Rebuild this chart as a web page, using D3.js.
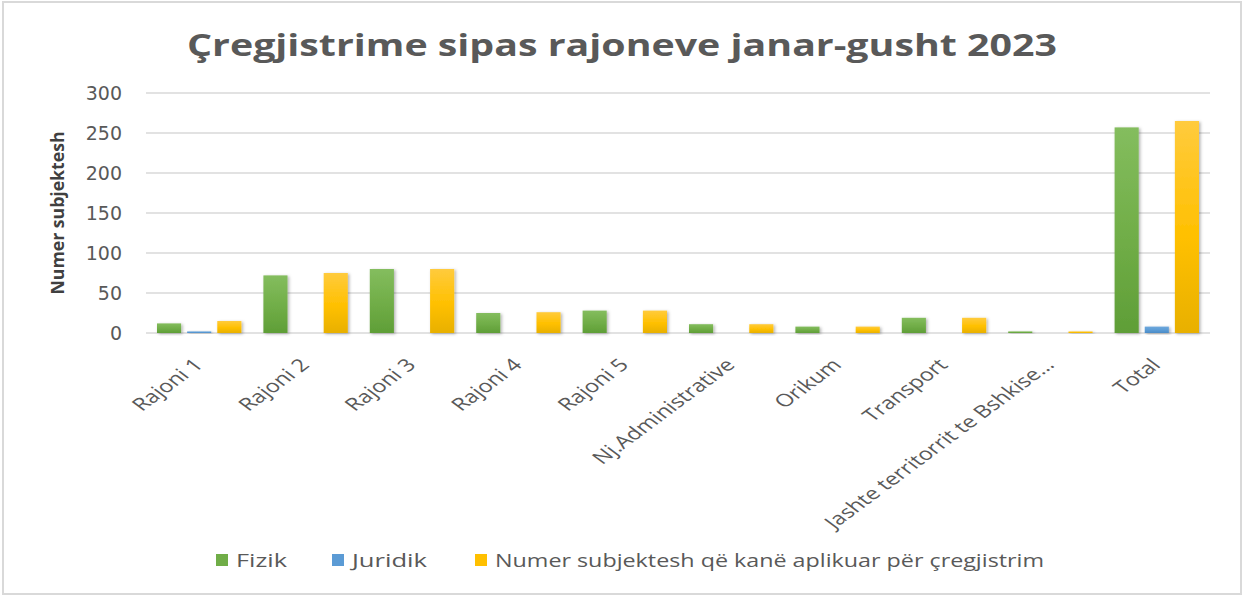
<!DOCTYPE html>
<html>
<head>
<meta charset="utf-8">
<script src="https://cdn.jsdelivr.net/npm/d3@7"></script>
<style>
  body { margin: 0; background: #fff; }
  text { font-family: "Open Sans", sans-serif; fill: #595959; }
</style>
</head>
<body>
<script>
const width = 1244;
const height = 597;

// data
const categories = ["Rajoni 1", "Rajoni 2", "Rajoni 3", "Rajoni 4", "Rajoni 5",
  "Nj.Administrative", "Orikum", "Transport", "Jashte territorrit te Bshkise…", "Total"];
const series = ["Fizik", "Juridik", "Numer subjektesh që kanë aplikuar për çregjistrim"];
const fizik   = [12, 72, 80, 25, 28, 11, 8, 19, 2, 257];
const juridik = [2, 0, 0, 0, 0, 0, 0, 0, 0, 8];
const aplikuar = [15, 75, 80, 26, 28, 11, 8, 19, 2, 265];
const yTicks = [0, 50, 100, 150, 200, 250, 300];

const values = [fizik, juridik, aplikuar];
const colors = ["#70ad47", "#5b9bd5", "#ffc000"];
const light = ["#84bd5e", "#6fa8dc", "#ffcb3d"];
const dark = ["#5f9e37", "#4a8bc6", "#e8b000"];

const margin = {left: 146, right: 34, top: 93, bottom: 264};

var svg = d3.select("body").append("svg")
    .attr("width", width)
    .attr("height", height);

// frame
svg.append("rect")
    .attr("x", 3).attr("y", 2)
    .attr("width", width - 6).attr("height", height - 5)
    .attr("fill", "#fff")
    .attr("stroke", "#d9d9d9")
    .attr("stroke-width", 2);

var defs = svg.append("defs");
series.forEach((s, i) => {
  var g = defs.append("linearGradient")
      .attr("id", "grad" + i)
      .attr("x1", 0).attr("y1", 0).attr("x2", 0).attr("y2", 1);
  g.append("stop").attr("offset", "0%").attr("stop-color", light[i]);
  g.append("stop").attr("offset", "55%").attr("stop-color", colors[i]);
  g.append("stop").attr("offset", "100%").attr("stop-color", dark[i]);
});
var shadow = defs.append("filter").attr("id", "shadow")
    .attr("x", "-30%").attr("y", "-30%").attr("width", "160%").attr("height", "160%");
shadow.append("feDropShadow")
    .attr("dx", 1.5).attr("dy", 1).attr("stdDeviation", 1.5)
    .attr("flood-color", "#000").attr("flood-opacity", 0.3);

// scales
const x0 = d3.scaleBand()
    .domain(categories)
    .range([margin.left, width - margin.right]);

const x1 = d3.scaleBand()
    .domain(d3.range(series.length))
    .range([11, x0.bandwidth() - 11])
    .paddingInner(0.2);

const y = d3.scaleLinear()
    .domain([0, 300])
    .range([height - margin.bottom, margin.top]);

// title
svg.append("text")
    .attr("x", 622).attr("y", 56)
    .attr("text-anchor", "middle")
    .attr("textLength", 870)
    .attr("lengthAdjust", "spacingAndGlyphs")
    .style("font-size", "30px")
    .style("font-weight", "bold")
    .text("Çregjistrime sipas rajoneve janar-gusht 2023");

// gridlines
svg.append("g")
  .selectAll("line")
  .data(yTicks)
  .enter().append("line")
    .attr("x1", margin.left).attr("x2", width - margin.right)
    .attr("y1", d => y(d)).attr("y2", d => y(d))
    .attr("stroke", "#d9d9d9")
    .attr("stroke-width", 1.5);

// y axis labels
const yaxis = d3.axisLeft(y).tickValues(yTicks).tickSize(0).tickPadding(24);
const g_yaxis = svg.append("g")
    .attr("transform", `translate(${margin.left},0)`)
    .call(yaxis);
g_yaxis.select(".domain").remove();
g_yaxis.selectAll("text")
    .style("font-size", "19px")
    .style("font-family", "'DejaVu Sans', sans-serif")
    .attr("fill", "#595959");

// y axis title
svg.append("text")
    .attr("transform", "translate(64,213) rotate(-90)")
    .attr("text-anchor", "middle")
    .attr("textLength", 163)
    .attr("lengthAdjust", "spacingAndGlyphs")
    .style("font-size", "17px")
    .style("font-weight", "bold")
    .style("fill", "#404040")
    .text("Numer subjektesh");

// bars
const group = svg.append("g").selectAll("g")
    .data(categories)
  .enter().append("g")
    .attr("transform", d => `translate(${x0(d)},0)`);

group.selectAll("rect")
    .data((d, ci) => values.map((v, si) => ({si: si, v: v[ci]})))
  .enter().append("rect")
    .filter(d => d.v > 0)
    .attr("x", d => x1(d.si))
    .attr("width", x1.bandwidth())
    .attr("y", d => y(d.v))
    .attr("height", d => y(0) - y(d.v))
    .attr("fill", d => "url(#grad" + d.si + ")")
    .attr("filter", "url(#shadow)");

// x labels (the source picture is stretched sideways, so the labels are too)
svg.append("g").selectAll("text")
    .data(categories)
  .enter().append("text")
    .attr("transform", d => `translate(${x0(d) + x0.bandwidth() / 2 + 5},366) scale(1.35,1) rotate(-45)`)
    .attr("text-anchor", "end")
    .style("font-size", "17.5px")
    .text(d => d);

// legend
const legendX = [216, 332, 475];
const legendW = [51, 75, 549];
const legend = svg.append("g").selectAll("g")
    .data(series)
  .enter().append("g")
    .attr("transform", (d, i) => `translate(${legendX[i]},560)`);

legend.append("rect")
    .attr("x", 0).attr("y", -6)
    .attr("width", 12).attr("height", 12)
    .attr("fill", (d, i) => colors[i]);

legend.append("text")
    .attr("x", 20).attr("y", 6.5)
    .attr("textLength", (d, i) => legendW[i])
    .attr("lengthAdjust", "spacingAndGlyphs")
    .style("font-size", "18px")
    .text(d => d);
</script>
</body>
</html>
